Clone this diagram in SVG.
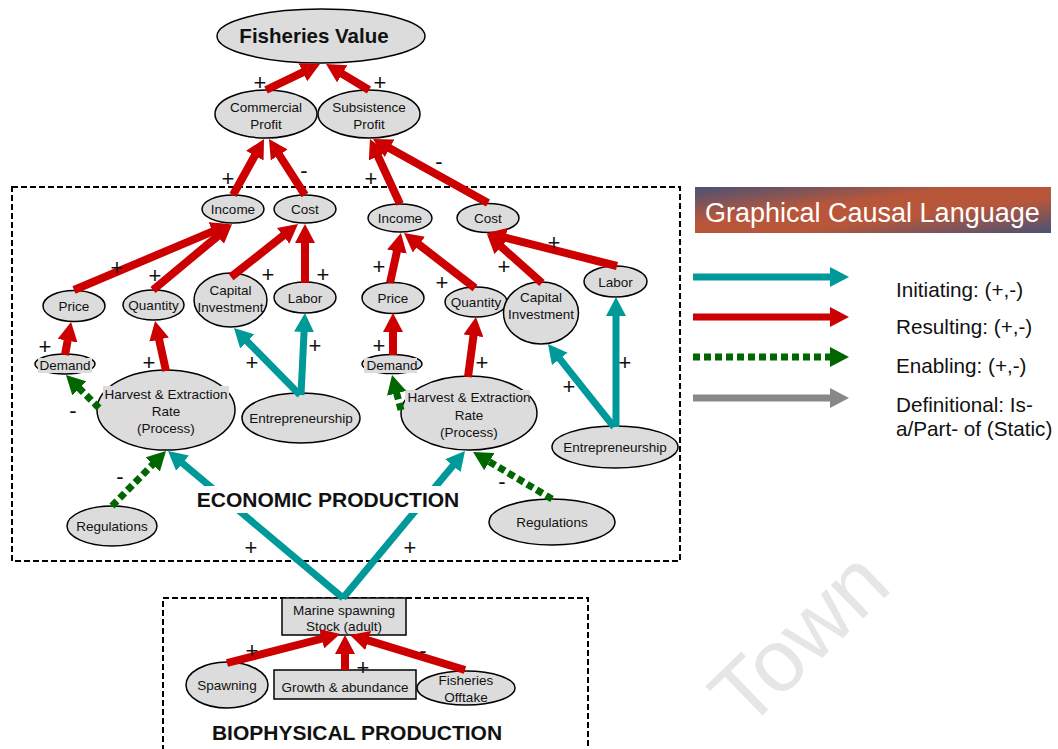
<svg xmlns="http://www.w3.org/2000/svg" width="1058" height="749" viewBox="0 0 1058 749">
  <defs>
    <style>
      .n ellipse, .n rect.box { fill: #dcdcdc; stroke: #000; stroke-width: 1.5; }
      .bg { fill: #dcdcdc; stroke: none; }
      text { font-family: "Liberation Sans", Arial, sans-serif; fill: #111; }
      .t { font-size: 13.5px; text-anchor: middle; }
      .sg { font-size: 22px; text-anchor: middle; }
      .hd { font-size: 21px; font-weight: bold; text-anchor: middle; }
      .lg { font-size: 20.7px; }
      .frame { fill: none; stroke: #000; stroke-width: 2; stroke-dasharray: 6 3; }
      .red { stroke: #cc0000; stroke-width: 8; fill: none; marker-end: url(#hr); }
      .teal { stroke: #009999; stroke-width: 7; fill: none; marker-end: url(#ht); }
      .green { stroke: #006600; stroke-width: 7; fill: none; stroke-dasharray: 7 4; marker-end: url(#hg); }
      .gray { stroke: #888888; stroke-width: 7; fill: none; marker-end: url(#hy); }
    </style>
    <marker id="hr" markerUnits="userSpaceOnUse" markerWidth="20" markerHeight="20" refX="1" refY="10" orient="auto">
      <path d="M0,0 L19,10 L0,20 z" fill="#cc0000"/>
    </marker>
    <marker id="ht" markerUnits="userSpaceOnUse" markerWidth="20" markerHeight="20" refX="1" refY="10" orient="auto">
      <path d="M0,0 L19,10 L0,20 z" fill="#009999"/>
    </marker>
    <marker id="hg" markerUnits="userSpaceOnUse" markerWidth="20" markerHeight="20" refX="1" refY="10" orient="auto">
      <path d="M0,0 L19,10 L0,20 z" fill="#006600"/>
    </marker>
    <marker id="hy" markerUnits="userSpaceOnUse" markerWidth="20" markerHeight="20" refX="1" refY="10" orient="auto">
      <path d="M0,0 L19,10 L0,20 z" fill="#888888"/>
    </marker>
    <linearGradient id="banner" x1="0" y1="0" x2="1" y2="1">
      <stop offset="0" stop-color="#4a5276"/>
      <stop offset="0.38" stop-color="#b8563a"/>
      <stop offset="0.62" stop-color="#b8563a"/>
      <stop offset="1" stop-color="#4a5276"/>
    </linearGradient>
  </defs>

  <rect width="1058" height="749" fill="#fff"/>

  <!-- faint watermark -->
  <text x="820" y="660" transform="rotate(-44 820 660)" font-size="88" text-anchor="middle" style="fill:#e6e6e6">Town</text>

  <!-- production frames -->
  <rect class="frame" x="12" y="187" width="668" height="374"/>
  <rect class="frame" x="163" y="598" width="425" height="160"/>

  <!-- nodes -->
  <g id="fisheries-value" class="n">
    <ellipse cx="321" cy="36" rx="104" ry="27"/>
    <text x="314" y="43" class="t" style="font-size:20.5px;font-weight:bold">Fisheries Value</text>
  </g>
  <g id="commercial-profit" class="n">
    <ellipse cx="266" cy="114" rx="51" ry="24"/>
    <text x="266" y="112" class="t">Commercial</text>
    <text x="266" y="129" class="t">Profit</text>
  </g>
  <g id="subsistence-profit" class="n">
    <ellipse cx="369" cy="114" rx="51" ry="24"/>
    <text x="369" y="112" class="t">Subsistence</text>
    <text x="369" y="129" class="t">Profit</text>
  </g>

  <g id="income-c" class="n">
    <ellipse cx="233" cy="209" rx="31" ry="14"/>
    <text x="233" y="214" class="t">Income</text>
  </g>
  <g id="cost-c" class="n">
    <ellipse cx="305" cy="209" rx="31" ry="14"/>
    <text x="305" y="214" class="t">Cost</text>
  </g>
  <g id="price-c" class="n">
    <ellipse cx="74" cy="306" rx="31" ry="15.5"/>
    <text x="74" y="311" class="t">Price</text>
  </g>
  <g id="quantity-c" class="n">
    <ellipse cx="153.5" cy="305" rx="30.5" ry="15"/>
    <text x="153.5" y="310" class="t">Quantity</text>
  </g>
  <g id="capital-c" class="n">
    <ellipse cx="230.5" cy="300" rx="36.5" ry="27"/>
    <text x="230.5" y="295" class="t">Capital</text>
    <text x="230.5" y="312" class="t">Investment</text>
  </g>
  <g id="labor-c" class="n">
    <ellipse cx="305" cy="297.5" rx="31" ry="15.5"/>
    <text x="305" y="302.5" class="t">Labor</text>
  </g>
  <g id="demand-c" class="n">
    <ellipse cx="65" cy="364" rx="30" ry="10"/>
    <rect class="bg" x="38" y="358" width="54" height="15"/>
    <text x="65" y="369.5" class="t">Demand</text>
  </g>
  <g id="harvest-c" class="n">
    <ellipse cx="166" cy="410" rx="69" ry="40"/>
    <rect class="bg" x="103" y="386" width="126" height="15"/>
    <text x="166" y="399" class="t">Harvest &amp; Extraction</text>
    <text x="166" y="416" class="t">Rate</text>
    <text x="166" y="433" class="t">(Process)</text>
  </g>
  <g id="entrepreneurship-c" class="n">
    <ellipse cx="301" cy="418" rx="59" ry="25"/>
    <text x="301" y="423" class="t">Entrepreneurship</text>
  </g>
  <g id="regulations-c" class="n">
    <ellipse cx="112" cy="526" rx="45" ry="20"/>
    <text x="112" y="531" class="t">Regulations</text>
  </g>

  <g id="income-s" class="n">
    <ellipse cx="400" cy="218" rx="32" ry="14"/>
    <text x="400" y="223" class="t">Income</text>
  </g>
  <g id="cost-s" class="n">
    <ellipse cx="488" cy="218" rx="31" ry="14.5"/>
    <text x="488" y="223" class="t">Cost</text>
  </g>
  <g id="price-s" class="n">
    <ellipse cx="393" cy="298" rx="31" ry="15.5"/>
    <text x="393" y="303" class="t">Price</text>
  </g>
  <g id="quantity-s" class="n">
    <ellipse cx="476" cy="302" rx="31" ry="15"/>
    <text x="476" y="307" class="t">Quantity</text>
  </g>
  <g id="capital-s" class="n">
    <ellipse cx="541" cy="313" rx="37.5" ry="31"/>
    <text x="541" y="302" class="t">Capital</text>
    <text x="541" y="319" class="t">Investment</text>
  </g>
  <g id="labor-s" class="n">
    <ellipse cx="615.5" cy="281.5" rx="31.5" ry="15.5"/>
    <text x="615.5" y="286.5" class="t">Labor</text>
  </g>
  <g id="demand-s" class="n">
    <ellipse cx="392" cy="364" rx="30" ry="9.5"/>
    <rect class="bg" x="364" y="358" width="53" height="15"/>
    <text x="392" y="369.5" class="t">Demand</text>
  </g>
  <g id="harvest-s" class="n">
    <ellipse cx="469" cy="413" rx="68" ry="37"/>
    <rect class="bg" x="405" y="390" width="125" height="14"/>
    <text x="469" y="402" class="t">Harvest &amp; Extraction</text>
    <text x="469" y="420" class="t">Rate</text>
    <text x="469" y="437" class="t">(Process)</text>
  </g>
  <g id="entrepreneurship-s" class="n">
    <ellipse cx="615" cy="447" rx="63" ry="21"/>
    <text x="615" y="452" class="t">Entrepreneurship</text>
  </g>
  <g id="regulations-s" class="n">
    <ellipse cx="552" cy="522" rx="63" ry="23"/>
    <text x="552" y="527" class="t">Regulations</text>
  </g>

  <g id="marine-stock" class="n">
    <rect class="box" x="282" y="598" width="124" height="37"/>
    <text x="344" y="615" class="t">Marine spawning</text>
    <text x="344" y="631" class="t">Stock (adult)</text>
  </g>
  <g id="spawning" class="n">
    <ellipse cx="227" cy="685" rx="41" ry="23"/>
    <text x="227" y="690" class="t">Spawning</text>
  </g>
  <g id="growth" class="n">
    <rect class="box" x="274" y="670" width="142" height="29"/>
    <text x="345" y="692" class="t">Growth &amp; abundance</text>
  </g>
  <g id="offtake" class="n">
    <ellipse cx="466" cy="688" rx="49" ry="17"/>
    <text x="466" y="685" class="t">Fisheries</text>
    <text x="466" y="702" class="t">Offtake</text>
  </g>

  <!-- connectors -->
  <g id="connectors">
    <line class="red" x1="266" y1="90" x2="303.8" y2="71.8"/>
    <line class="red" x1="369" y1="90" x2="341.4" y2="73.3"/>
    <line class="red" x1="233" y1="195" x2="255.3" y2="154.8"/>
    <line class="red" x1="305" y1="195" x2="278.7" y2="154.1"/>
    <line class="red" x1="400" y1="204" x2="377.5" y2="155.3"/>
    <line class="red" x1="488" y1="203" x2="388.7" y2="147.8"/>
    <line class="red" x1="74" y1="290" x2="213.4" y2="231.1"/>
    <line class="red" x1="153" y1="290" x2="218.3" y2="235.6"/>
    <line class="red" x1="231" y1="277" x2="283.9" y2="235.2"/>
    <line class="red" x1="305" y1="283" x2="305" y2="242"/>
    <line class="red" x1="65" y1="355" x2="67.8" y2="339.7"/>
    <line class="red" x1="166" y1="371" x2="158.9" y2="338.6"/>
    <line class="red" x1="390" y1="283" x2="397.1" y2="250.6"/>
    <line class="red" x1="475" y1="288" x2="418.2" y2="244"/>
    <line class="red" x1="542" y1="283" x2="500.4" y2="246"/>
    <line class="red" x1="617" y1="266" x2="504.4" y2="237.4"/>
    <line class="red" x1="393" y1="355" x2="393" y2="331"/>
    <line class="red" x1="468" y1="377" x2="473.6" y2="334.8"/>
    <line class="red" x1="227" y1="663" x2="322.6" y2="638.5"/>
    <line class="red" x1="345" y1="670" x2="345" y2="653"/>
    <line class="red" x1="465" y1="670" x2="367.2" y2="640.2"/>

    <line class="teal" x1="300" y1="395" x2="246.6" y2="340.8"/>
    <line class="teal" x1="301" y1="395" x2="304.1" y2="331"/>
    <line class="teal" x1="343" y1="598" x2="181.8" y2="462.6"/>
    <line class="teal" x1="343" y1="598" x2="453.5" y2="464.9"/>
    <line class="teal" x1="614" y1="427" x2="559.2" y2="358.1"/>
    <line class="teal" x1="616" y1="427" x2="616" y2="315"/>

    <line class="green" x1="99" y1="408" x2="78.7" y2="387.7"/>
    <line class="green" x1="112" y1="506" x2="153.4" y2="463.8"/>
    <line class="green" x1="552" y1="499" x2="488.5" y2="461.2"/>
    <line class="green" x1="401" y1="410" x2="396.5" y2="392.4"/>
  </g>

  <!-- polarity signs -->
  <g id="signs">
    <text class="sg" x="260" y="90">+</text>
    <text class="sg" x="380" y="90">+</text>
    <text class="sg" x="228" y="186">+</text>
    <text class="sg" x="304" y="178">-</text>
    <text class="sg" x="371" y="186">+</text>
    <text class="sg" x="439" y="169">-</text>
    <text class="sg" x="117" y="275">+</text>
    <text class="sg" x="155" y="283">+</text>
    <text class="sg" x="268" y="282">+</text>
    <text class="sg" x="323" y="282">+</text>
    <text class="sg" x="45" y="354">+</text>
    <text class="sg" x="149" y="370">+</text>
    <text class="sg" x="73" y="418">-</text>
    <text class="sg" x="252" y="370">+</text>
    <text class="sg" x="315" y="353">+</text>
    <text class="sg" x="379" y="274">+</text>
    <text class="sg" x="442" y="290">+</text>
    <text class="sg" x="504" y="274">+</text>
    <text class="sg" x="554" y="250">+</text>
    <text class="sg" x="379" y="353">+</text>
    <text class="sg" x="482" y="370">+</text>
    <text class="sg" x="569" y="394">+</text>
    <text class="sg" x="625" y="370">+</text>
    <text class="sg" x="120" y="484">-</text>
    <text class="sg" x="502" y="489">-</text>
    <text class="sg" x="251" y="555">+</text>
    <text class="sg" x="410" y="555">+</text>
    <text class="sg" x="252" y="658">+</text>
    <text class="sg" x="363" y="675">+</text>
    <text class="sg" x="423" y="658">-</text>
  </g>

  <!-- section titles -->
  <g id="economic-title">
    <rect x="192" y="486" width="272" height="27" fill="#fff"/>
    <text class="hd" x="328" y="507">ECONOMIC PRODUCTION</text>
  </g>
  <g id="biophysical-title">
    <text class="hd" x="357" y="740">BIOPHYSICAL PRODUCTION</text>
  </g>

  <!-- legend -->
  <g id="legend">
    <rect x="695" y="187" width="356" height="46" fill="url(#banner)"/>
    <text x="705" y="222" style="font-size:27px;fill:#fff">Graphical Causal Language</text>
    <line class="teal" x1="693" y1="277" x2="831" y2="277"/>
    <line class="red" x1="693" y1="317" x2="831" y2="317" style="stroke-width:7"/>
    <line class="green" x1="693" y1="357" x2="831" y2="357"/>
    <line class="gray" x1="693" y1="398" x2="831" y2="398"/>
    <text class="lg" x="896" y="297">Initiating: (+,-)</text>
    <text class="lg" x="896" y="334">Resulting: (+,-)</text>
    <text class="lg" x="896" y="373">Enabling: (+,-)</text>
    <text class="lg" x="896" y="412">Definitional: Is-</text>
    <text class="lg" x="896" y="436">a/Part- of (Static)</text>
  </g>
</svg>
